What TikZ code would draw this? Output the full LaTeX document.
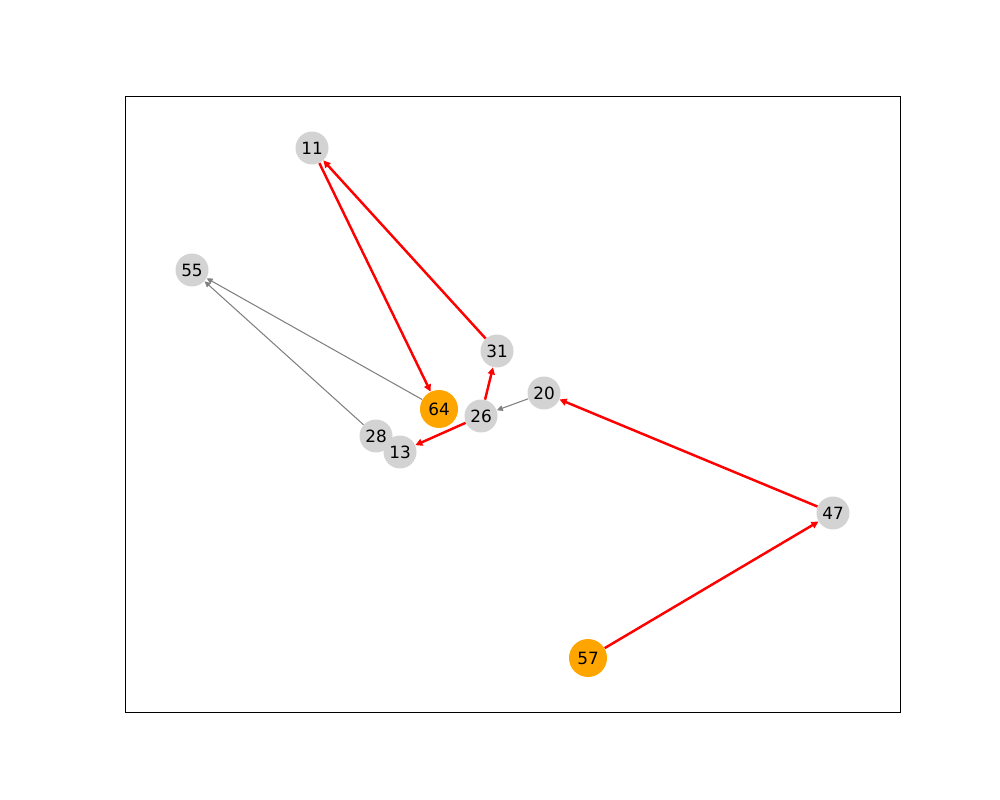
\documentclass[tikz,border=0pt]{standalone}
\usepackage{fontspec}
\setmainfont{DejaVu Sans}
\usetikzlibrary{arrows.meta}
\definecolor{nodegray}{HTML}{D3D3D3}
\definecolor{nodeorange}{HTML}{FFA500}
\definecolor{edgegray}{HTML}{808080}
\definecolor{edgered}{HTML}{FF0000}
\tikzset{
  gnode/.style={circle, fill=nodegray, minimum size=0.66cm, inner sep=0pt, font=\fontsize{9.6}{11}\selectfont},
  onode/.style={circle, fill=nodeorange, minimum size=0.76cm, inner sep=0pt, font=\fontsize{9.6}{11}\selectfont},
  redge/.style={draw=edgered, line width=1.4pt, -{Stealth[length=4pt,width=4pt,inset=0pt]}},
  gedge/.style={draw=edgegray, line width=0.6pt, -{Stealth[length=3.4pt,width=3.2pt,inset=0pt]}},
  frame/.style={draw=black, line width=0.45pt}
}
\begin{document}
\begin{tikzpicture}[x=0.02cm,y=-0.02cm]
\useasboundingbox (0,0) rectangle (1000,800);
\draw[frame] (125,96) rectangle (900,712);
\node[gnode] (n11) at (312,148) {11};
\node[gnode] (n55) at (192,270) {55};
\node[gnode] (n31) at (497,351) {31};
\node[gnode] (n20) at (544,393) {20};
\node[onode] (n64) at (439,409) {64};
\node[gnode] (n26) at (481,416) {26};
\node[gnode] (n28) at (376,436) {28};
\node[gnode] (n13) at (400,452) {13};
\node[gnode] (n47) at (833,513) {47};
\node[onode] (n57) at (588,658) {57};
\draw[redge] (n57) -- (n47);
\draw[redge] (n47) -- (n20);
\draw[gedge] (n20) -- (n26);
\draw[redge] (n26) -- (n31);
\draw[redge] (n31) -- (n11);
\draw[redge] (n11) -- (n64);
\draw[redge] (n26) -- (n13);
\draw[gedge] (n64) -- (n55);
\draw[gedge] (n28) -- (n55);
\end{tikzpicture}
\end{document}
